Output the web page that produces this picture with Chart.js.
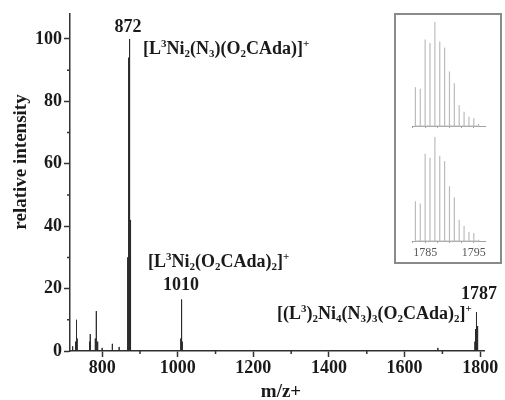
<!DOCTYPE html>
<html>
<head>
<meta charset="utf-8">
<script src="https://cdn.jsdelivr.net/npm/chart.js@4.4.0/dist/chart.umd.min.js"></script>
<style>
  html, body { margin: 0; padding: 0; background: #fff; }
  #wrap { position: relative; width: 505px; height: 400px; }
  #main { position: absolute; left: 0; top: 0; }
  #insetBox {
    position: absolute; left: 394px; top: 13px;
    width: 104px; height: 247px;
    border: 2px solid #8a8a8a; background: #fff;
  }
  #insetTop { position: absolute; left: 400px; top: 16px; }
  #insetBottom { position: absolute; left: 400px; top: 130px; }
</style>
</head>
<body>
<div id="wrap">
  <canvas id="main" width="505" height="400"></canvas>
  <div id="insetBox"></div>
  <canvas id="insetTop" width="95" height="118"></canvas>
  <canvas id="insetBottom" width="95" height="132"></canvas>
</div>

<script>
  // main spectrum (m/z, relative intensity)
  const peakMz = [722, 729, 730, 731, 733, 734, 767, 768, 769, 782, 784, 785, 787, 789, 800,
    827, 845, 867, 868, 869, 870, 871, 872, 873, 874, 875, 876,
    1008, 1009, 1010, 1011, 1012, 1688,
    1786, 1787, 1788, 1789, 1790, 1791, 1792, 1793, 1794];
  const peakInt = [1.5, 2, 3, 5, 10, 4, 3, 5.4, 2, 4, 12.8, 6, 3, 1.5, 1,
    2.3, 1.3, 6, 30, 49, 48, 94, 100, 49, 42, 20, 6,
    4, 9.5, 16.5, 9, 3, 1,
    3, 5, 7, 9, 10, 12.5, 8, 4, 2];

  const xTicks = [800, 1000, 1200, 1400, 1600, 1800];
  const xMinorTicks = [900, 1100, 1300, 1500, 1700];
  const yTicks = [0, 20, 40, 60, 80, 100];
  const yMinorTicks = [10, 30, 50, 70, 90];

  // inset: isotope pattern of the 1787 ion, measured (top) and simulated (bottom)
  const insetMz = [1783, 1784, 1785, 1786, 1787, 1788, 1789, 1790, 1791, 1792, 1793, 1794, 1795, 1796];
  const insetTopInt = [37.3, 35.7, 83.2, 79.7, 100, 81.3, 75.5, 52.4, 41.2, 20.0, 13.8, 9.0, 7.4, 1.9];
  const insetBottomInt = [38.3, 36.0, 83.9, 80.0, 100, 82.0, 76.9, 52.7, 41.8, 20.5, 14.5, 8.7, 7.7, 1.3];
  const insetTicks = [1782.5, 1785, 1787.5, 1790, 1792.5, 1795];
  const insetLabels = [1785, 1795];

  const FONT = '"Liberation Serif", "Times New Roman", serif';
  const INK = '#1a1a1a';

  // text labels in data coordinates; ^ = superscript char, _ = subscript char
  const notes = [
    { text: '872', x: 868.4, y: 102.2, align: 'center' },
    { text: '[L^3Ni_2(N_3)(O_2CAda)]^+', x: 908, y: 95.2, align: 'left' },
    { text: '[L^3Ni_2(O_2CAda)_2]^+', x: 921, y: 26.9, align: 'left' },
    { text: '1010', x: 1008.6, y: 19.5, align: 'center' },
    { text: '1787', x: 1796.8, y: 16.7, align: 'center' },
    { text: '[(L^3)_2Ni_4(N_3)_3(O_2CAda)_2]^+', x: 1262.5, y: 10.3, align: 'left' }
  ];

  function sticks(xs, ys) {
    const pts = [];
    xs.forEach((v, i) => {
      pts.push({ x: v, y: 0 }, { x: v, y: ys[i] }, { x: v, y: 0 });
    });
    return pts;
  }

  function parseRich(s) {
    const out = [];
    for (let i = 0; i < s.length; i++) {
      const c = s[i];
      if (c === '^') out.push({ t: s[++i], k: 'sup' });
      else if (c === '_') out.push({ t: s[++i], k: 'sub' });
      else out.push({ t: c, k: 'n' });
    }
    return out;
  }

  function drawRich(ctx, s, x, y, align) {
    const big = 'bold 18px ' + FONT;
    const small = 'bold 11px ' + FONT;
    const segs = parseRich(s);
    let w = 0;
    segs.forEach(sg => {
      ctx.font = sg.k === 'n' ? big : small;
      sg.w = ctx.measureText(sg.t).width;
      w += sg.w;
    });
    let cx = align === 'center' ? x - w / 2 : x;
    ctx.textAlign = 'left';
    ctx.textBaseline = 'alphabetic';
    segs.forEach(sg => {
      ctx.font = sg.k === 'n' ? big : small;
      const dy = sg.k === 'sup' ? -7 : sg.k === 'sub' ? 3 : 0;
      ctx.fillText(sg.t, cx, y + dy);
      cx += sg.w;
    });
  }

  const decor = {
    id: 'decor',
    afterDraw(chart) {
      const { ctx, scales: { x, y } } = chart;
      ctx.save();
      ctx.strokeStyle = '#333';
      ctx.lineWidth = 1.5;
      ctx.beginPath();
      xMinorTicks.forEach(v => {
        const px = x.getPixelForValue(v);
        ctx.moveTo(px, x.top);
        ctx.lineTo(px, x.top + 3);
      });
      yMinorTicks.forEach(v => {
        const py = y.getPixelForValue(v);
        ctx.moveTo(y.right - 3, py);
        ctx.lineTo(y.right, py);
      });
      ctx.stroke();

      ctx.fillStyle = INK;
      notes.forEach(n => {
        drawRich(ctx, n.text, x.getPixelForValue(n.x), y.getPixelForValue(n.y), n.align);
      });

      ctx.font = 'bold 19px ' + FONT;
      ctx.textAlign = 'center';
      ctx.textBaseline = 'middle';
      ctx.fillText('m/z+', 281, 392);
      ctx.translate(21, 162);
      ctx.rotate(-Math.PI / 2);
      ctx.fillText('relative intensity', 0, 0);
      ctx.restore();
    }
  };

  new Chart(document.getElementById('main'), {
    type: 'line',
    data: {
      datasets: [{
        data: sticks(peakMz, peakInt),
        borderColor: '#2b2b2b',
        borderWidth: 1,
        pointRadius: 0,
        tension: 0,
        fill: false
      }]
    },
    options: {
      responsive: false,
      animation: false,
      devicePixelRatio: 1,
      layout: { padding: { left: 0, right: 21, top: 14, bottom: 0 } },
      plugins: { legend: { display: false }, tooltip: { enabled: false } },
      scales: {
        x: {
          type: 'linear',
          min: 715,
          max: 1810,
          afterBuildTicks: s => { s.ticks = xTicks.map(v => ({ value: v })); },
          afterFit: s => { s.height = 49; },
          border: { color: '#333', width: 1.5 },
          grid: { drawOnChartArea: false, tickLength: 6, tickColor: '#333', tickWidth: 1.5 },
          ticks: {
            font: { family: FONT, size: 18, weight: 'bold' },
            color: INK, padding: 1, maxRotation: 0, autoSkip: false,
            callback: v => String(v)
          }
        },
        y: {
          min: 0,
          max: 108,
          afterBuildTicks: s => { s.ticks = yTicks.map(v => ({ value: v })); },
          afterFit: s => { s.width = 70; },
          border: { color: '#333', width: 1.5 },
          grid: { drawOnChartArea: false, tickLength: 6, tickColor: '#333', tickWidth: 1.5 },
          ticks: {
            font: { family: FONT, size: 18, weight: 'bold' },
            color: INK, padding: 2,
            callback: v => String(v)
          }
        }
      }
    },
    plugins: [decor]
  });

  function insetChart(id, values, topPad, axisH, showLabels) {
    return new Chart(document.getElementById(id), {
      type: 'line',
      data: {
        datasets: [{
          data: sticks(insetMz, values),
          borderColor: '#bcbcbc',
          borderWidth: 1.2,
          pointRadius: 0,
          tension: 0,
          fill: false,
          clip: false
        }]
      },
      options: {
        responsive: false,
        animation: false,
        devicePixelRatio: 1,
        layout: { padding: { left: 12, right: 10, top: topPad, bottom: 0 } },
        plugins: { legend: { display: false }, tooltip: { enabled: false } },
        scales: {
          x: {
            type: 'linear',
            min: 1782.3,
            max: 1797.3,
            afterBuildTicks: s => { s.ticks = insetTicks.map(v => ({ value: v })); },
            afterFit: s => { s.height = axisH; },
            border: { color: '#a0a0a0', width: 1 },
            grid: { drawOnChartArea: false, tickLength: 2, tickColor: '#a0a0a0' },
            ticks: {
              display: showLabels,
              font: { family: FONT, size: 12 },
              color: '#555', padding: 3, maxRotation: 0, autoSkip: false,
              callback: v => insetLabels.includes(v) ? String(v) : ''
            }
          },
          y: { display: false, min: 0, max: 100 }
        }
      }
    });
  }

  insetChart('insetTop', insetTopInt, 6, 8, false);
  insetChart('insetBottom', insetBottomInt, 7, 21, true);
</script>
</body>
</html>
